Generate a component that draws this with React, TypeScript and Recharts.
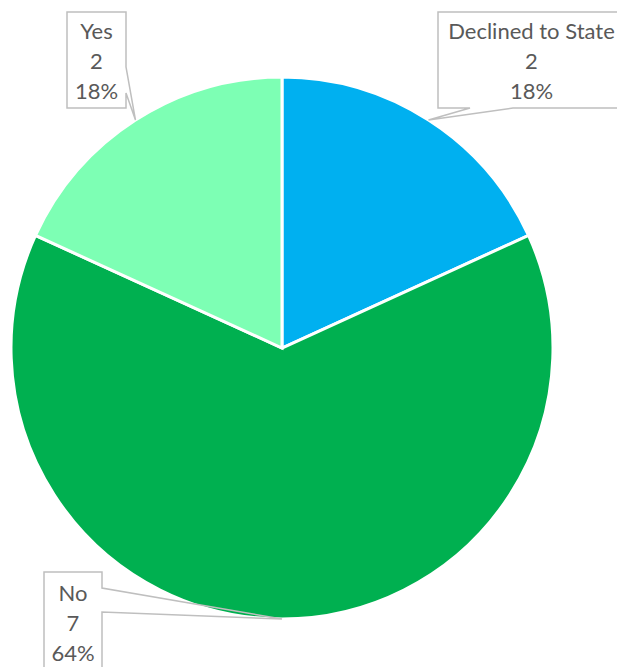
import React from 'react';
import { PieChart, Pie, Cell } from 'recharts';

const categories = ['Declined to State', 'No', 'Yes'];
const counts = [2, 7, 2];
const colors = ['#00B0F0', '#00B050', '#7DFFB4'];

const data = categories.map((name, i) => ({ name, value: counts[i] }));

// callout boxes: [x0, y0, x1, y1], wedge base side and span
const callouts = [
  { box: [438, 12, 625, 108], side: 'bottom', base: [470, 513] },
  { box: [44, 572, 102, 672], side: 'right', base: [588, 612] },
  { box: [67, 12, 126, 108], side: 'right', base: [67, 93] },
];

const RADIAN = Math.PI / 180;

const renderLabel = (props: any) => {
  const { cx, cy, midAngle, outerRadius, index, name, value, percent } = props;
  const tx = cx + outerRadius * Math.cos(-midAngle * RADIAN);
  const ty = cy + outerRadius * Math.sin(-midAngle * RADIAN);
  const c = callouts[index];
  const [x0, y0, x1, y1] = c.box;
  let d = '';
  if (c.side === 'bottom') {
    d = `M${x0},${y0} L${x1},${y0} L${x1},${y1} L${c.base[1]},${y1} L${tx},${ty} L${c.base[0]},${y1} L${x0},${y1} Z`;
  } else {
    d = `M${x0},${y0} L${x1},${y0} L${x1},${c.base[0]} L${tx},${ty} L${x1},${c.base[1]} L${x1},${y1} L${x0},${y1} Z`;
  }
  const mx = (x0 + x1) / 2;
  const my = (y0 + y1) / 2;
  const lines = [name, String(value), `${Math.round(percent * 100)}%`];
  return (
    <g key={`lbl-${index}`}>
      <path d={d} fill="none" stroke="#BFBFBF" strokeWidth={1.5} />
      {lines.map((t, i) => (
        <text
          key={i}
          x={mx}
          y={my + (i - 1) * 30}
          textAnchor="middle"
          dominantBaseline="central"
          fill="#595959"
          fontSize={22}
          fontFamily="Lato, 'Open Sans', sans-serif"
        >
          {t}
        </text>
      ))}
    </g>
  );
};

export default function App() {
  return (
    <div style={{ position: 'absolute', left: 0, top: 0, background: '#fff' }}>
      <PieChart width={617} height={667}>
        <Pie
          data={data}
          dataKey="value"
          nameKey="name"
          cx={277}
          cy={343}
          outerRadius={271}
          startAngle={90}
          endAngle={-270}
          stroke="#fff"
          strokeWidth={3}
          labelLine={false}
          label={renderLabel}
          isAnimationActive={false}
        >
          {data.map((d, i) => (
            <Cell key={d.name} fill={colors[i]} />
          ))}
        </Pie>
      </PieChart>
    </div>
  );
}
